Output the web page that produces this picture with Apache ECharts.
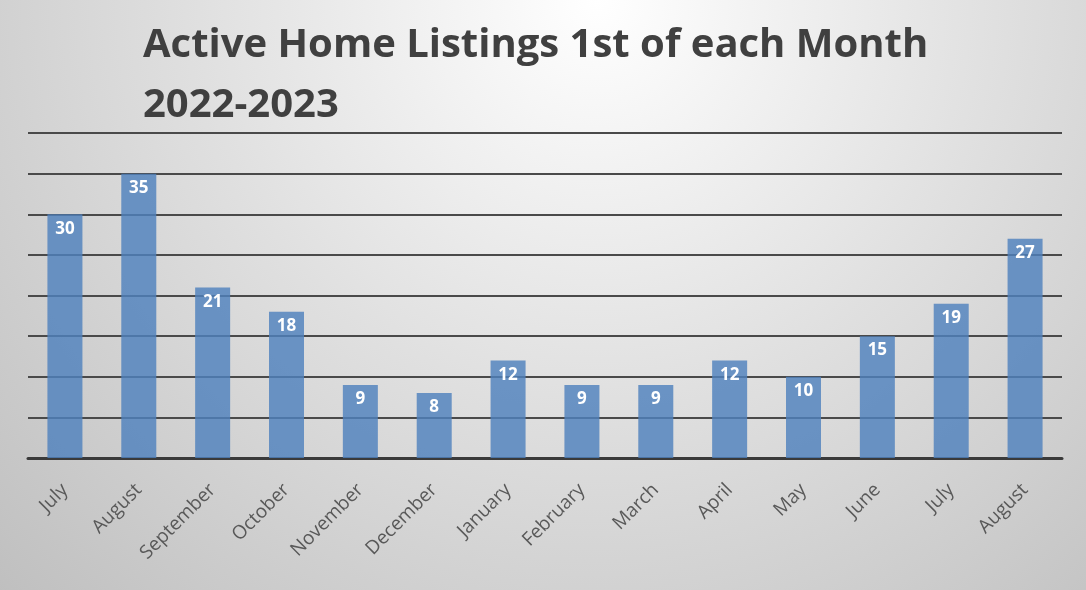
<!DOCTYPE html>
<html>
<head>
<meta charset="utf-8">
<script src="https://cdn.jsdelivr.net/npm/echarts@6/dist/echarts.min.js"></script>
<style>
html,body{margin:0;padding:0;}
#chart{width:1086px;height:590px;}
</style>
</head>
<body>
<div id="chart"></div>
<script>
const titleLines = ["Active Home Listings 1st of each Month", "2022-2023"];
const categories = ["July","August","September","October","November","December","January","February","March","April","May","June","July","August"];
const listings = [30,35,21,18,9,8,12,9,9,12,10,15,19,27];
const yMin = 0, yMax = 40, yStep = 5;

const chart = echarts.init(document.getElementById('chart'));
chart.setOption({
  backgroundColor: {
    type: 'radial', x: 0.55, y: 0.0, r: 1.5,
    colorStops: [
      {offset: 0, color: '#ffffff'},
      {offset: 0.45, color: '#e0e0e0'},
      {offset: 1, color: '#bcbcbc'}
    ]
  },
  title: {
    text: titleLines.join('\n'),
    left: 138, top: 11,
    textStyle: {
      fontFamily: 'Open Sans', fontWeight: 'bold', fontSize: 40,
      color: '#404040', lineHeight: 60
    }
  },
  grid: {left: 28, right: 24, top: 133, bottom: 132},
  xAxis: {
    type: 'category', data: categories,
    axisLine: {show: true, lineStyle: {color: '#3a3a3a', width: 3}},
    axisTick: {show: false},
    axisLabel: {
      rotate: 45, margin: 29, interval: 0,
      color: '#595959', fontFamily: 'Open Sans', fontSize: 19
    }
  },
  yAxis: {
    type: 'value', min: yMin, max: yMax, interval: yStep,
    axisLabel: {show: false}, axisLine: {show: false}, axisTick: {show: false},
    splitLine: {lineStyle: {color: '#4a4a4a', width: 2}}
  },
  series: [{
    type: 'bar', data: listings, barWidth: 35,
    itemStyle: {color: 'rgba(79,129,189,0.82)'},
    label: {
      show: true, position: 'insideTop', distance: 6,
      color: '#ffffff', fontFamily: 'Open Sans', fontWeight: 'bold', fontSize: 17
    }
  }]
});
</script>
</body>
</html>
